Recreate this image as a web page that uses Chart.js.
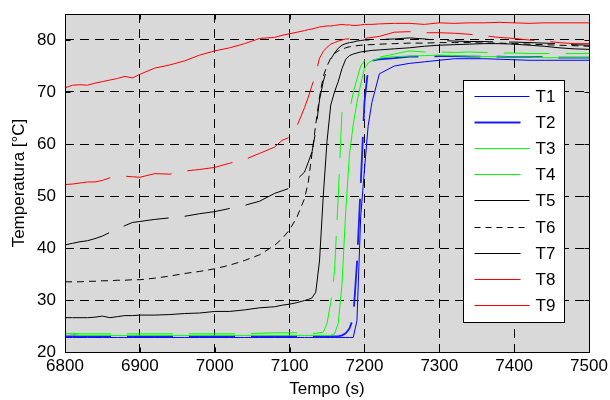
<!DOCTYPE html>
<html>
<head>
<meta charset="utf-8">
<script src="https://cdn.jsdelivr.net/npm/chart.js@4"></script>
<style>
  html, body { margin: 0; padding: 0; background: #fff; }
</style>
</head>
<body>
<canvas id="canvas" width="610" height="400"></canvas>
<script>

// time stamps (s), denser around the jump near 7150-7200
let time = [6800,6810,6820,6830,6840,6850,6860,6870,6880,6890,6900,
  6920,6940,6960,6980,7000,7020,7040,7060,7080,
  7090,7100,7110,7120,
  7125,7130,7135,7140,7145,7150,7155,7160,7165,7170,7175,7180,7185,7190,7195,7200,7205,7210,
  7220,7240,7260,7280,7300,7320,7340,7360,7380,7400,7420,7440,7460,7480,7500];

// temperatures (°C)
let t1 = [22.8,22.8,22.8,22.8,22.8,22.8,22.8,22.8,22.8,22.8,22.8,
  22.8,22.8,22.8,22.8,22.8,22.8,22.8,22.8,22.8,
  22.8,22.8,22.8,22.8,
  22.8,22.8,22.8,22.8,22.8,22.8,22.8,22.8,22.8,22.8,22.8,22.8,22.8,26.0,46.0,55.0,63.5,68.0,
  73.5,75.0,75.5,75.8,76.1,76.4,76.4,76.4,76.3,76.2,76.1,76.1,76.1,76.1,76.1];
let t2 = [23.0,23.0,23.0,23.0,23.0,23.0,23.0,23.0,23.0,23.0,23.0,
  23.0,23.0,23.0,23.0,23.0,23.0,23.0,23.0,23.0,
  23.0,23.0,23.0,23.0,
  23.0,23.0,23.0,23.0,23.0,23.0,23.0,23.0,23.0,23.2,23.6,24.5,26.5,37.0,52.0,68.0,74.5,76.0,
  76.3,76.5,76.8,76.8,76.9,76.9,76.8,76.8,76.8,76.7,76.7,76.7,76.6,76.6,76.6];
let t3 = [23.6,23.4,23.2,23.2,23.2,23.2,23.2,23.2,23.2,23.2,23.2,
  23.2,23.2,23.2,23.2,23.2,23.2,23.2,23.2,23.2,
  23.2,23.2,23.2,23.2,
  23.2,23.2,23.2,23.2,23.2,23.2,23.2,23.5,25.5,33.0,47.0,58.0,63.7,68.0,71.5,74.5,75.6,76.0,
  76.5,76.8,76.9,77.0,77.1,77.0,76.9,76.8,76.8,76.7,76.7,76.6,76.6,76.6,76.6];
let t4 = [23.5,23.6,23.5,23.5,23.5,23.5,23.5,23.5,23.5,23.5,23.5,
  23.5,23.5,23.5,23.5,23.5,23.5,23.5,23.6,23.7,
  23.7,23.7,23.7,23.6,
  23.6,23.6,23.6,23.7,23.8,25.5,29.5,35.5,50.0,66.3,66.0,66.5,69.8,72.5,75.0,76.0,76.3,76.5,
  76.7,77.3,77.9,77.7,77.7,77.6,77.7,77.6,77.5,77.5,77.4,77.4,77.4,77.4,77.4];
let t5 = [26.6,26.6,26.6,26.6,26.7,26.9,26.6,26.8,27.0,27.0,27.1,
  27.1,27.2,27.4,27.5,27.8,27.8,28.1,28.5,28.7,
  29.0,29.2,29.5,29.9,
  30.1,30.4,31.5,37.5,50.0,60.5,67.5,70.0,72.0,74.5,76.3,77.0,77.3,77.5,77.7,77.8,77.9,78.0,
  78.1,78.3,78.5,78.8,79.0,79.1,79.2,79.3,79.3,79.2,79.0,78.8,78.5,78.3,78.2];
let t6 = [33.5,33.5,33.5,33.6,33.6,33.7,33.7,33.8,33.8,33.9,33.9,
  34.2,34.6,35.1,35.5,36.0,36.7,37.6,38.7,40.5,
  41.8,43.5,46.0,49.5,
  52.7,58.2,63.8,69.0,73.0,75.0,76.5,77.4,77.9,78.2,78.5,78.7,78.8,78.9,79.0,79.0,79.1,79.1,
  79.2,79.3,79.4,79.4,79.5,79.5,79.5,79.4,79.4,79.3,79.2,79.1,79.0,78.9,78.8];
let t7 = [40.6,40.9,41.2,41.4,41.8,42.3,43.0,43.7,44.3,44.9,45.1,
  45.5,45.8,46.1,46.6,47.0,47.6,48.2,49.0,50.5,
  51.0,51.5,53.2,54.6,
  56.5,58.5,62.5,68.5,72.0,74.5,76.3,77.5,78.4,79.0,79.3,79.5,79.6,79.8,79.9,80.0,80.0,80.1,
  80.1,80.2,80.4,80.2,79.9,79.8,79.7,79.7,79.6,79.6,79.5,79.4,79.3,79.1,79.0];
let t8 = [52.2,52.3,52.5,52.7,52.7,53.0,53.5,53.6,53.8,53.7,53.6,
  54.3,54.2,54.8,55.1,55.5,56.3,57.0,58.2,59.4,
  60.7,61.3,63.5,67.0,
  69.0,71.3,73.5,76.5,77.8,78.6,79.2,79.5,79.8,80.0,80.2,80.2,80.2,80.2,80.2,80.3,80.4,80.5,
  80.7,81.5,81.6,81.4,81.4,81.3,81.1,80.8,80.5,80.3,80.0,79.8,79.5,79.3,79.3];
let t9 = [70.8,71.3,71.4,71.3,71.7,72.0,72.3,72.6,73.0,72.7,73.4,
  74.6,75.2,76.0,77.1,77.9,78.5,79.3,80.3,80.5,
  80.9,81.2,81.5,81.8,
  82.0,82.1,82.3,82.5,82.6,82.7,82.7,82.8,82.9,83.0,82.9,82.9,82.8,82.8,82.9,83.0,83.0,83.0,
  83.1,83.2,83.2,83.0,83.3,83.2,83.3,83.3,83.4,83.3,83.2,83.3,83.3,83.3,83.3];

let xTicks = [6800, 6900, 7000, 7100, 7200, 7300, 7400, 7500];
let yTicks = [20, 30, 40, 50, 60, 70, 80];

let longDash = [46, 16];
let shortDash = [7, 5];

function series(label, values, color, dash, width) {
  return {
    label: label,
    data: values,
    borderColor: color,
    borderWidth: width || 1,
    borderDash: dash,
    fill: false,
    pointRadius: 0,
    tension: 0
  };
}

let datasets = [
  series('T1', t1, '#0000ff', []),
  series('T2', t2, '#1a1aff', longDash, 1.8),
  series('T3', t3, '#00ff00', []),
  series('T4', t4, '#00ff00', longDash),
  series('T5', t5, '#000000', []),
  series('T6', t6, '#000000', shortDash),
  series('T7', t7, '#000000', longDash),
  series('T8', t8, '#ff0000', longDash),
  series('T9', t9, '#ff0000', [])
];
// later series drawn on top, like the original plot
datasets.forEach((d, i) => { d.order = datasets.length - i; });

// gray plot background, boxed axes with inward ticks, legend inside the plot
let matlabLook = {
  id: 'matlabLook',
  beforeDraw(chart) {
    let a = chart.chartArea;
    let ctx = chart.ctx;
    ctx.save();
    ctx.fillStyle = '#d9d9d9';
    ctx.fillRect(a.left, a.top, a.right - a.left, a.bottom - a.top);
    ctx.restore();
  },
  afterDatasetsDraw(chart) {
    let a = chart.chartArea;
    let ctx = chart.ctx;
    let left = Math.round(a.right - 126) + 0.5;
    let top = Math.round(a.top + 66) + 0.5;
    let w = 101, h = 242, rowH = 26.1;
    ctx.save();
    ctx.fillStyle = '#ffffff';
    ctx.fillRect(left, top, w, h);
    ctx.strokeStyle = '#000';
    ctx.lineWidth = 1;
    ctx.setLineDash([]);
    ctx.strokeRect(left, top, w, h);
    chart.data.datasets.forEach((ds, i) => {
      let y = Math.round(top + 15.5 + i * rowH) + 0.5;
      ctx.strokeStyle = ds.borderColor;
      ctx.lineWidth = ds.borderWidth;
      ctx.setLineDash(ds.borderDash.length ? ds.borderDash.map(v => v === 7 ? 6 : v) : []);
      ctx.beginPath();
      ctx.moveTo(left + 11, y);
      ctx.lineTo(left + 66, y);
      ctx.stroke();
      ctx.setLineDash([]);
      ctx.fillStyle = '#000';
      ctx.font = '17px "Liberation Sans", Arial, sans-serif';
      ctx.textBaseline = 'middle';
      ctx.textAlign = 'left';
      ctx.fillText(ds.label, left + 72, y + 1);
    });
    ctx.restore();
  },
  afterDraw(chart) {
    let a = chart.chartArea;
    let ctx = chart.ctx;
    let xs = chart.scales.x, ys = chart.scales.y;
    let L = Math.round(a.left) + 0.5, R = Math.round(a.right) + 0.5;
    let T = Math.round(a.top) + 0.5, B = Math.round(a.bottom) + 0.5;
    ctx.save();
    ctx.strokeStyle = '#000';
    ctx.lineWidth = 1;
    ctx.setLineDash([]);
    ctx.strokeRect(L, T, R - L, B - T);
    ctx.beginPath();
    xTicks.forEach(v => {
      let x = Math.round(xs.getPixelForValue(v)) + 0.5;
      ctx.moveTo(x, B); ctx.lineTo(x, B - 5);
      ctx.moveTo(x, T); ctx.lineTo(x, T + 5);
    });
    yTicks.forEach(v => {
      let y = Math.round(ys.getPixelForValue(v)) + 0.5;
      ctx.moveTo(L, y); ctx.lineTo(L + 5, y);
      ctx.moveTo(R, y); ctx.lineTo(R - 5, y);
    });
    ctx.stroke();
    ctx.restore();
  }
};

Chart.defaults.font.family = '"Liberation Sans", Arial, sans-serif';
Chart.defaults.color = '#000';

let options = {
  type: 'line',
  data: {
    labels: time,
    datasets: datasets
  },
  options: {
    responsive: false,
    animation: false,
    devicePixelRatio: 1,
    layout: { padding: { top: 14, right: 21, left: 0, bottom: 0 } },
    plugins: {
      legend: { display: false },
      tooltip: { enabled: false }
    },
    scales: {
      x: {
        type: 'linear',
        min: 6800,
        max: 7500,
        afterBuildTicks: s => { s.ticks = xTicks.map(v => ({ value: v })); },
        afterFit: s => { s.height = 48; s.paddingLeft = 0; s.paddingRight = 0; },
        grid: { color: '#000', lineWidth: 1, drawTicks: false },
        border: { display: false, dash: [9, 6] },
        ticks: { color: '#000', font: { size: 17 }, padding: 4, maxRotation: 0, autoSkip: false,
          callback: v => String(v) },
        title: { display: true, text: 'Tempo (s)', color: '#000', font: { size: 17 }, padding: { top: 0, bottom: 0 } }
      },
      y: {
        type: 'linear',
        min: 20,
        max: 85,
        afterBuildTicks: s => { s.ticks = yTicks.map(v => ({ value: v })); },
        afterFit: s => { s.width = 65; s.paddingTop = 0; s.paddingBottom = 0; },
        grid: { color: '#000', lineWidth: 1, drawTicks: false },
        border: { display: false, dash: [9, 6] },
        ticks: { color: '#000', font: { size: 17 }, padding: 9, autoSkip: false,
          callback: v => String(v) },
        title: { display: true, text: 'Temperatura [°C]', color: '#000', font: { size: 17 }, padding: { top: 9, bottom: 0 } }
      }
    }
  },
  plugins: [matlabLook]
};

let chart = new Chart(document.getElementById('canvas'), options);
</script>
</body>
</html>
